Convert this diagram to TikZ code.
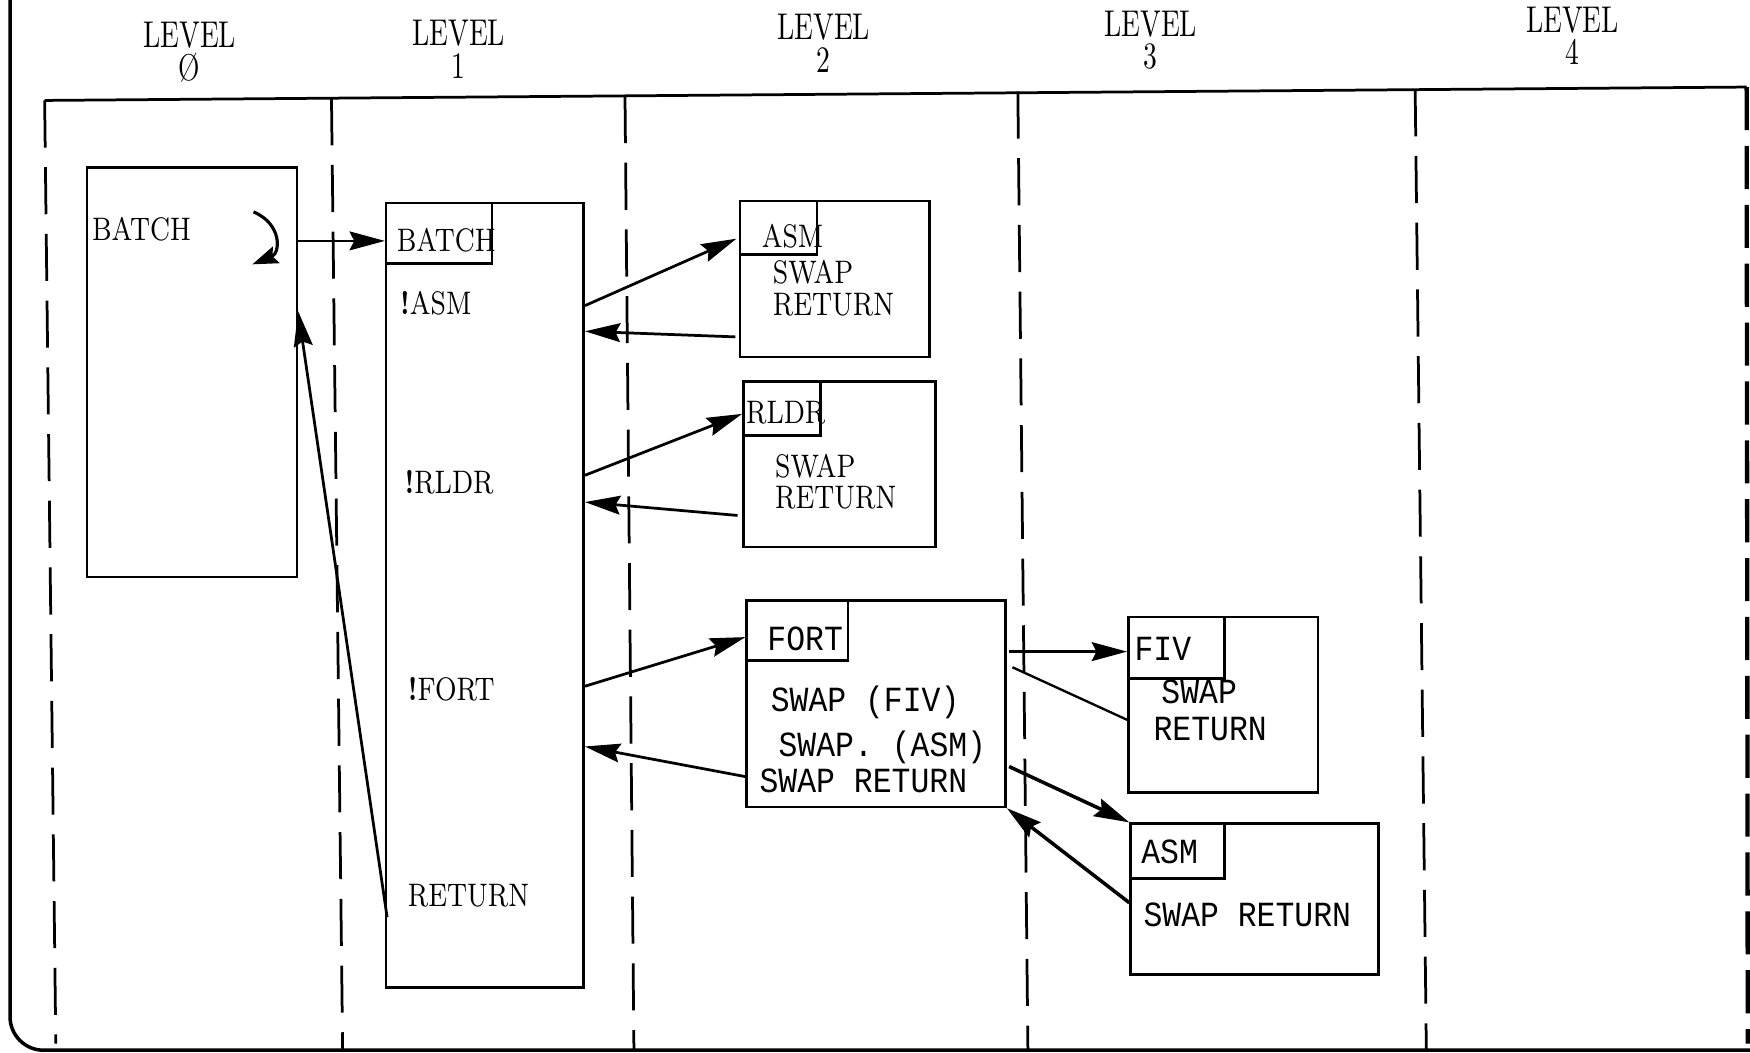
\documentclass[tikz,border=0pt]{standalone}
\usepackage{fontspec}
\newfontfamily\tw{Liberation Mono}
\usetikzlibrary{arrows.meta,calc,fit}
\begin{document}
\begin{tikzpicture}[x=0.01cm,y=-0.01cm,
  box/.style={draw,line width=0.65pt,inner sep=0pt},
  lbl/.style={font=\fontsize{8.3}{9}\selectfont,xscale=0.8,anchor=west,inner sep=0pt},
  tlbl/.style={font=\tw\fontsize{9}{10}\selectfont,xscale=0.89,anchor=west,inner sep=0pt},
  lvl/.style={font=\fontsize{9.5}{8.3}\selectfont,xscale=0.74,inner sep=0pt,align=center},
  arr/.style={-{Stealth[length=9pt,width=4.8pt,inset=1.2pt]},line width=0.7pt},
  smallarr/.style={-{Stealth[length=6.5pt,width=4.5pt,inset=1pt]},line width=0.8pt},
  plain/.style={line width=0.6pt},
  divider/.style={line width=0.7pt,dash pattern=on 12pt off 5pt}]
\useasboundingbox (0,0) rectangle (1568,943);
% frame
\draw[line width=0.9pt,rounded corners=0.3cm] (9,-5) -- (9,941) -- (1570,941);
\draw[line width=0.7pt] (40,90) -- (1565,78);
\draw[line width=1.1pt,dash pattern=on 11pt off 4pt] (1565,78) -- (1566,935);
% level dividers
\draw[divider] (40,90) -- (50,935);
\draw[divider] (297,88) -- (307,940);
\draw[divider] (560,86) -- (568,940);
\draw[divider] (912,82) -- (921,940);
\draw[divider] (1268,80) -- (1278,940);
% level labels
\node[lvl] (lv0) at (170,47) {LEVEL\\Ø};
\node[lvl] (lv1) at (411,44) {LEVEL\\1};
\node[lvl] (lv2) at (738,39) {LEVEL\\2};
\node[lvl] (lv3) at (1031,36) {LEVEL\\3};
\node[lvl] (lv4) at (1409,32) {LEVEL\\4};
% level 0
\node[box,fit={(78,150) (266,517)}] (b0) {};
\node[lbl] (b0t) at (82,205) {BATCH};
% level 1
\node[box,fit={(346,182) (523,885)}] (l1) {};
\node[box,fit={(346,182) (441,236)}] (l1h) {};
\node[lbl] (l1t) at (355,215) {BATCH};
\node[lbl] (l1a) at (358,272) {{\bfseries !}ASM};
\node[lbl] (l1b) at (362,432) {{\bfseries !}RLDR};
\node[lbl] (l1c) at (365,618) {{\bfseries !}FORT};
\node[lbl] (l1d) at (365,803) {RETURN};
% level 2
\node[box,fit={(663,180) (833,320)}] (asm2) {};
\node[box,fit={(663,180) (732,228)}] (asm2h) {};
\node[lbl] (asm2t) at (682,212) {ASM};
\node[lbl] (asm2s) at (692,244) {SWAP};
\node[lbl] (asm2r) at (692,273) {RETURN};
\node[box,fit={(666,342) (838,490)}] (rldr) {};
\node[box,fit={(666,342) (735,390)}] (rldrh) {};
\node[lbl] (rldrt) at (668,370) {RLDR};
\node[lbl] (rldrs) at (694,418) {SWAP};
\node[lbl] (rldrr) at (694,446) {RETURN};
\node[box,fit={(669,538) (901,723)}] (fort) {};
\node[box,fit={(669,538) (760,592)}] (forth) {};
\node[tlbl] (fortt) at (687,572) {FORT};
\node[tlbl] (forta) at (690,629) {SWAP (FIV)};
\node[tlbl] (fortb) at (697,670) {SWAP. (ASM)};
\node[tlbl] (fortc) at (680,700) {SWAP RETURN};
% level 3
\node[box,fit={(1011,553) (1181,710)}] (fiv) {};
\node[box,fit={(1011,553) (1097,608)}] (fivh) {};
\node[tlbl] (fivt) at (1016,581) {FIV};
\node[tlbl] (fivs) at (1040,620) {SWAP};
\node[tlbl] (fivr) at (1033,653) {RETURN};
\node[box,fit={(1013,738) (1235,873)}] (asm3) {};
\node[box,fit={(1013,738) (1097,787)}] (asm3h) {};
\node[tlbl] (asm3t) at (1022,763) {ASM};
\node[tlbl] (asm3s) at (1024,820) {SWAP RETURN};
% connectors
\draw[smallarr] ($(b0.north east)+(-40,41)$) .. controls ($(b0.north east)+(-14,52)$) and ($(b0.north east)+(-16,78)$) .. ($(b0.north east)+(-41,88)$);
\draw[arr] ($(b0.north east)+(0,67)$) -- ($(l1.north west)+(0,35)$);
\draw[arr] ($(l1.north east)+(0,93)$) -- ($(asm2.north west)+(-2,35)$);
\draw[arr] ($(asm2.north west)+(-3,123)$) -- ($(l1.north east)+(0,116)$);
\draw[arr] ($(l1.north east)+(0,245)$) -- ($(rldr.north west)+(0,30)$);
\draw[arr] ($(rldr.north west)+(-4,121)$) -- ($(l1.north east)+(0,269)$);
\draw[arr] ($(l1.north east)+(0,434)$) -- ($(fort.north west)+(0,34)$);
\draw[arr] ($(fort.north west)+(0,159)$) -- ($(l1.north east)+(0,488)$);
\draw[arr] ($(l1.north west)+(2,641)$) -- ($(b0.north east)+(0,130)$);
\draw[arr] ($(fort.north east)+(2,47)$) -- ($(fiv.north west)+(0,32)$);
\draw[plain] ($(fort.north east)+(5,61)$) -- ($(fiv.north west)+(2,94)$);
\draw[arr,line width=0.9pt] ($(fort.north east)+(2,150)$) -- (asm3.north west);
\draw[arr,line width=0.9pt] ($(asm3.north west)+(0,72)$) -- (fort.south east);
\end{tikzpicture}
\end{document}
